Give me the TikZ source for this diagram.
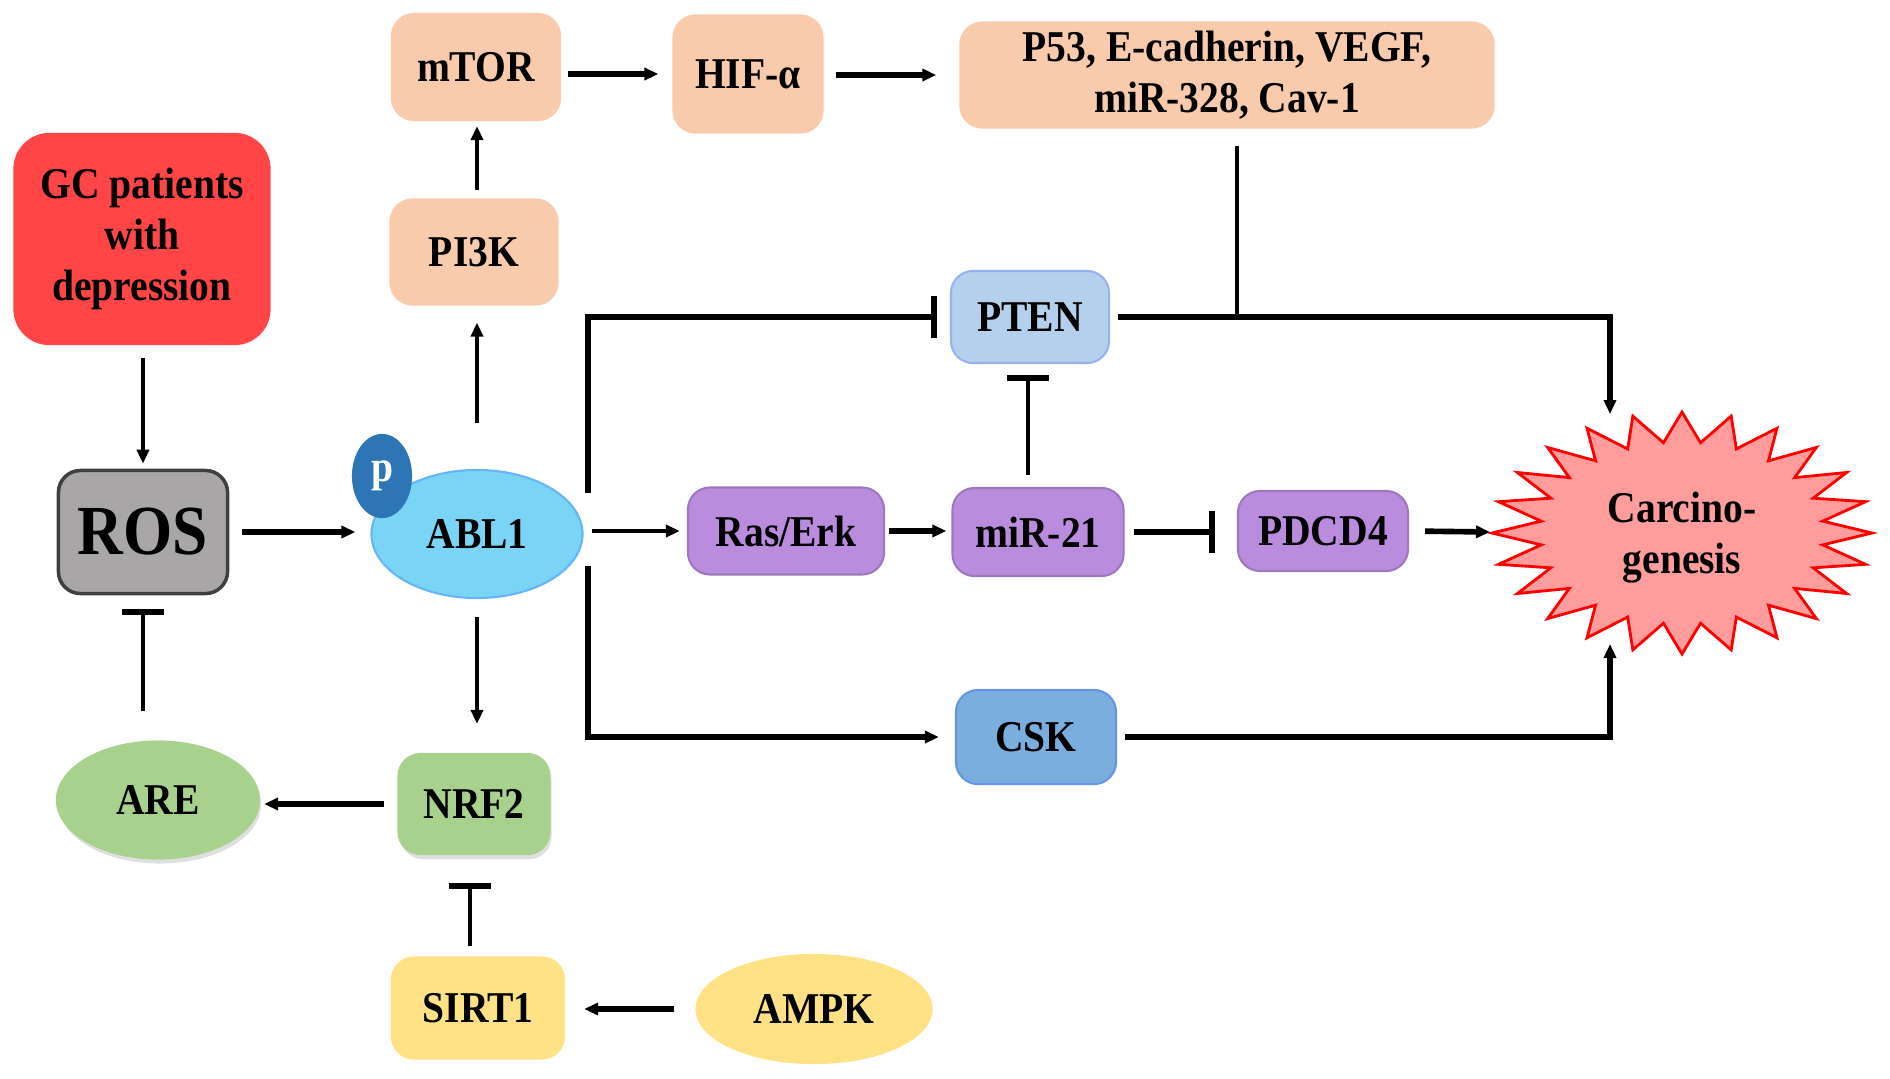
\documentclass[tikz,border=0pt]{standalone}
\usepackage{fontspec}
\setmainfont{Liberation Serif}[FakeStretch=0.9]
\usepackage{xcolor}
\usetikzlibrary{arrows.meta,shapes.geometric,shadows}

\definecolor{peach}{HTML}{F8CBAD}
\definecolor{gcred}{HTML}{FF4545}
\definecolor{rosgray}{HTML}{A9A6A7}
\definecolor{ablblue}{HTML}{79D4F6}
\definecolor{pblue}{HTML}{2E75B6}
\definecolor{ptenblue}{HTML}{B4D0EC}
\definecolor{lilac}{HTML}{BA8CDE}
\definecolor{cskblue}{HTML}{79AEDF}
\definecolor{leaf}{HTML}{A9D18E}
\definecolor{sun}{HTML}{FFE286}
\definecolor{starfill}{HTML}{FF9C9C}

\tikzset{
    box/.style={draw, rounded corners=0.22cm, align=center, inner sep=0pt, line width=0.6pt},
    blob/.style={draw, ellipse, align=center, inner sep=0pt, line width=0.6pt},
    arr/.style={line width=1.1pt, -{Triangle[length=0.14cm, width=0.12cm]}},
    thickarr/.style={arr, line width=1.6pt},
    inh/.style={line width=1.1pt, -{Bar[width=0.42cm, line width=1.6pt]}},
    thickinh/.style={inh, line width=1.6pt}
}

\begin{document}
\begin{tikzpicture}[x=0.01cm, y=-0.01cm, font=\fontsize{12.5}{14.5}\selectfont\bfseries]
    \useasboundingbox (0,0) rectangle (1890,1078);

    % Top row
    \node[box, fill=peach, draw=peach, minimum width=1.68cm, minimum height=1.06cm] (mtor) at (476,67) {mTOR};
    \node[box, fill=peach, draw=peach, minimum width=1.49cm, minimum height=1.17cm] (hif) at (748,74) {HIF-α};
    \node[box, fill=peach, draw=peach, minimum width=5.33cm, minimum height=1.05cm] (p53) at (1227,75) {P53, E-cadherin, VEGF,\\miR-328, Cav-1};
    \node[box, fill=peach, draw=peach, minimum width=1.67cm, minimum height=1.05cm] (pi3k) at (474,252) {PI3K};

    % Left column
    \node[box, fill=gcred, draw=gcred, rounded corners=0.35cm, minimum width=2.55cm, minimum height=2.1cm] (gc) at (142,239) {GC patients\\with\\depression};
    \node[box, fill=rosgray, draw=black!75, line width=1pt, minimum width=1.69cm, minimum height=1.23cm, font=\fontsize{20}{24}\selectfont\bfseries] (ros) at (143,532) {ROS};
    \node[blob, fill=leaf, draw=leaf, minimum width=2.02cm, minimum height=1.17cm, drop shadow={opacity=0.25, shadow xshift=0.02cm, shadow yshift=-0.05cm}] (are) at (158,800) {ARE};

    % ABL1 and its partners
    \node[blob, fill=ablblue, draw=ablblue!85!blue, minimum width=2.11cm, minimum height=1.28cm] (abl) at (477,534) {ABL1};
    \node[blob, fill=pblue, draw=pblue, text=white, minimum width=0.58cm, minimum height=0.82cm] (pho) at (382,476) {p};
    \node[box, fill=leaf, draw=leaf, minimum width=1.51cm, minimum height=1.0cm, drop shadow={opacity=0.25, shadow xshift=0.02cm, shadow yshift=-0.05cm}] (nrf) at (474,804) {NRF2};
    \node[box, fill=sun, draw=sun, minimum width=1.72cm, minimum height=1.01cm] (sirt) at (478,1008) {SIRT1};
    \node[blob, fill=sun, draw=sun, minimum width=2.35cm, minimum height=1.08cm] (ampk) at (814,1009) {AMPK};

    % Middle row
    \node[box, fill=lilac, draw=lilac!85!black, minimum width=1.96cm, minimum height=0.87cm] (ras) at (786,531) {Ras/Erk};
    \node[box, fill=lilac, draw=lilac!85!black, minimum width=1.71cm, minimum height=0.88cm] (mir) at (1038,532) {miR-21};
    \node[box, fill=lilac, draw=lilac!85!black, minimum width=1.70cm, minimum height=0.80cm] (pdcd) at (1323,531) {PDCD4};
    \node[box, fill=ptenblue, draw=ptenblue!85!blue, minimum width=1.58cm, minimum height=0.92cm] (pten) at (1030,317) {PTEN};
    \node[box, fill=cskblue, draw=cskblue!85!blue, minimum width=1.60cm, minimum height=0.94cm] (csk) at (1036,737) {CSK};

    % Starburst
    \draw[red, fill=starfill, line width=0.8pt, shift={(1682,533)}] (0:190 and 121)
        \foreach \a in {0,15,...,345} { -- ({\a+7.5}:142 and 91) -- ({\a+15}:190 and 121) } -- cycle;
    \node[align=center] (carc) at (1682,538) {Carcino-\\genesis};
    \coordinate (cleft) at (1490,532);
    \coordinate (ctop) at (1610,414);
    \coordinate (cbot) at (1610,644);
    \coordinate (abu) at (588,493);
    \coordinate (abd) at (588,566);

    % Connectors
    \draw[thickarr, shorten <=0.07cm, shorten >=0.14cm] (mtor.east |- hif) -- (hif);
    \draw[thickarr, shorten <=0.12cm, shorten >=0.23cm] (hif.east |- p53) -- (p53.west);
    \draw[arr, shorten <=0.08cm, shorten >=0.05cm] (abl.north |- pi3k.north) -- (abl.north |- mtor.south);
    \draw[arr, shorten >=0.17cm] ([yshift=0.46cm]abl.north) -- (abl.north |- pi3k.south);
    \draw[arr, shorten <=0.13cm, shorten >=0.05cm] (gc.south -| ros.north) -- (ros.north);
    \draw[thickarr, shorten <=0.13cm, shorten >=0.15cm] (ros.east) -- (ros.east -| abl.west);
    \draw[arr, shorten <=0.08cm, shorten >=0.07cm] (abl.east |- ras) -- (ras.west);
    \draw[thickarr, shorten <=0.04cm, shorten >=0.05cm] (ras.east) -- (ras.east -| mir.west);
    \draw[thickinh, shorten <=0.09cm, shorten >=0.22cm] (mir.east) -- (mir.east -| pdcd.west);
    \draw[thickarr, shorten <=0.16cm] (pdcd.east) -- (cleft);
    \draw[inh, shorten <=0.12cm, shorten >=0.11cm] ([xshift=-0.02cm]pten.south |- mir.north) -- ([xshift=-0.02cm]pten.south);
    \draw[thickinh, shorten >=0.13cm] (abu) |- (pten.west);
    \draw[thickarr, shorten >=0.16cm] (abd) |- (csk.west);
    \draw[thickarr, shorten <=0.08cm] (pten.east) -| (ctop);
    \draw[line width=1.1pt] ([xshift=0.1cm, yshift=-0.17cm]p53.south) -- ([xshift=0.1cm]p53.south |- pten.east);
    \draw[thickarr, shorten <=0.08cm] (csk.east) -| (cbot);
    \draw[arr, shorten <=0.18cm, shorten >=0.29cm] (abl.south) -- (abl.south |- nrf.north);
    \draw[thickarr, shorten <=0.13cm, shorten >=0.04cm] (nrf.west) -- (nrf.west -| are.east);
    \draw[inh, shorten <=0.29cm, shorten >=0.14cm] (ros.south |- are.north) -- (ros.south);
    \draw[inh, shorten <=0.10cm, shorten >=0.28cm] ([xshift=-0.08cm]sirt.north) -- ([xshift=-0.08cm]sirt.north |- nrf.south);
    \draw[thickarr, shorten <=0.21cm, shorten >=0.19cm] (ampk.west) -- (ampk.west -| sirt.east);
\end{tikzpicture}
\end{document}
